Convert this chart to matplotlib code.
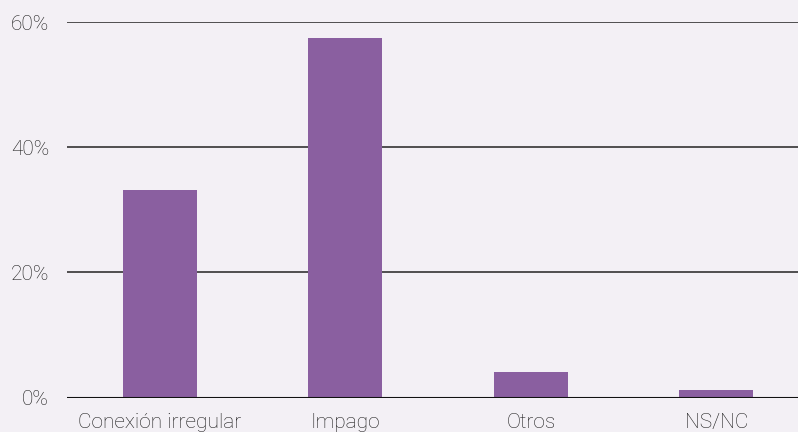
import matplotlib.pyplot as plt
import numpy as np

# datos
categorias = ["Conexión irregular", "Impago", "Otros", "NS/NC"]
valores = [33.2, 57.4, 4.1, 1.2]
ticks_y = [0, 20, 40, 60]
etiquetas_y = ["0%", "20%", "40%", "60%"]

fondo = "#f3f0f5"
morado = "#8a5fa0"

plt.rcParams['font.family'] = ['Roboto', 'DejaVu Sans']
plt.rcParams['font.weight'] = 'light'

fig = plt.figure(figsize=(7.98, 4.32), dpi=100, facecolor=fondo)
ax = fig.add_axes([67 / 798, 34.5 / 432, 731 / 798, 375.5 / 432], facecolor=fondo)

x = np.arange(len(categorias))
ax.bar(x, valores, width=0.4, color=morado, zorder=3)

ax.set_xlim(-0.5, 3.44)
ax.set_ylim(0, 60)
ax.set_yticks(ticks_y)
ax.set_yticklabels(etiquetas_y)
ax.set_xticks(x)
ax.set_xticklabels(categorias)

for t in ticks_y[1:]:
    ax.axhline(t, color="#333333", lw=1.2, zorder=1)
ax.axhline(0, color="#111111", lw=1.5, zorder=4)

for s in ax.spines.values():
    s.set_visible(False)
ax.tick_params(axis='y', length=0, pad=13, labelsize=15, labelcolor="#1a1a1a")
ax.tick_params(axis='x', length=0, pad=11, labelsize=15, labelcolor="#1a1a1a")

fig.savefig("out.png", dpi=100, facecolor=fondo)
